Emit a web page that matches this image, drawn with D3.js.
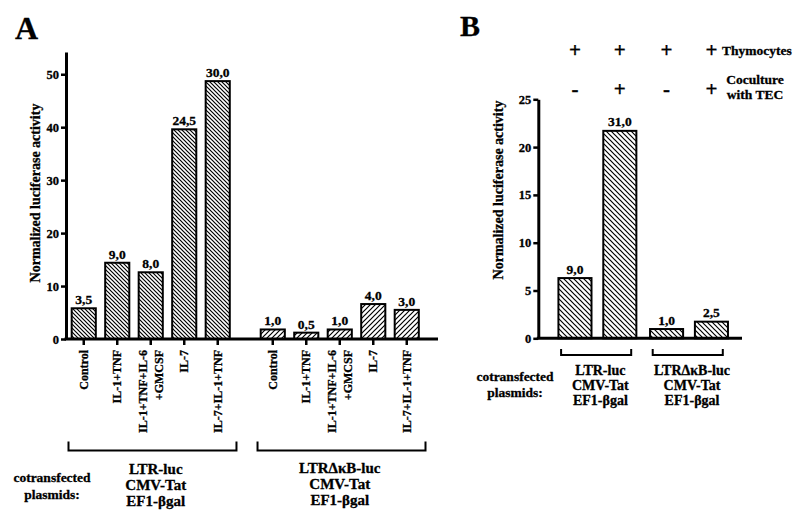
<!DOCTYPE html>
<html>
<head>
<meta charset="utf-8">
<script src="https://cdn.jsdelivr.net/npm/d3@7"></script>
<style>
  body { margin: 0; background: #fff; }
  svg text { font-family: "Liberation Serif", serif; font-weight: bold; fill: #000;
             stroke: #000; stroke-width: 0.3; }
</style>
</head>
<body>
<svg id="fig" width="800" height="519"></svg>
<script>
// ---- data ----
// panel A
const groupsA = ["LTR", "LTRdk"];
const treatmentsA = ["Control", "IL-1+TNF", "IL-1+TNF+IL-6|+GMCSF", "IL-7", "IL-7+IL-1+TNF"];
const activityLTR = [5.8, 14.4, 12.6, 39.6, 48.7];
const activityLTRdk = [1.8, 1.2, 1.8, 6.6, 5.5];
const foldLTR = ["3,5", "9,0", "8,0", "24,5", "30,0"];
const foldLTRdk = ["1,0", "0,5", "1,0", "4,0", "3,0"];
const ticksA = [0, 10, 20, 30, 40, 50];

// panel B
const groupsB = ["LTR", "LTRdk"];
const conditionsB = ["a", "b"];
const activityB = [[6.3, 21.7], [0.97, 1.74]];
const foldB = [["9,0", "31,0"], ["1,0", "2,5"]];
const thymocytes = ["+", "+", "+", "+"];
const coculture = ["-", "+", "-", "+"];
const ticksB = [0, 5, 10, 15, 20, 25];

// plasmid label lines
const plasmidLTR = ["LTR-luc", "CMV-Tat", "EF1-\u03B2gal"];
const plasmidLTRdk = ["LTR\u0394\u03BAB-luc", "CMV-Tat", "EF1-\u03B2gal"];
const plasmidsCaption = ["cotransfected", "plasmids:"];

const svg = d3.select("svg#fig");

// hatch patterns
const defs = svg.append("defs");
function hatch(id, size, back) {
  const p = defs.append("pattern")
    .attr("id", id)
    .attr("patternUnits", "userSpaceOnUse")
    .attr("width", size)
    .attr("height", size);
  p.append("rect").attr("width", size).attr("height", size).attr("fill", "#fff");
  const s = size;
  const d = back
    ? `M0,0L${s},${s}M${-s/2},${s/2}L${s/2},${s*1.5}M${s/2},${-s/2}L${s*1.5},${s/2}`
    : `M0,${s}L${s},0M${-s/2},${s/2}L${s/2},${-s/2}M${s/2},${s*1.5}L${s*1.5},${s/2}`;
  p.append("path").attr("d", d).attr("stroke", "#000").attr("stroke-width", 1.2);
}
hatch("hatchBack", 4, true);
hatch("hatchFwd", 5, false);
hatch("hatchBackB", 5, true);

function styleAxis(g, size) {
  g.attr("font-size", size);
  g.select(".domain").attr("stroke", "#000").attr("stroke-width", 3);
  g.selectAll(".tick line").attr("stroke", "#000").attr("stroke-width", 2.5);
}

// ================= PANEL A =================
const A = svg.append("g").attr("id", "panelA");

const yA = d3.scaleLinear().domain([0, 54.2]).range([339, 52]);
const xGroupA = d3.scaleBand().domain(groupsA).range([67, 423.5]).paddingInner(0.114);
const xInA = d3.scaleBand().domain(d3.range(treatmentsA.length))
  .range([0, xGroupA.bandwidth()]).paddingInner(0.28).paddingOuter(0.14);

const rowsA = [];
groupsA.forEach((g, gi) => {
  const vals = gi === 0 ? activityLTR : activityLTRdk;
  const folds = gi === 0 ? foldLTR : foldLTRdk;
  vals.forEach((v, i) => rowsA.push({ group: g, i: i, value: v, fold: folds[i], label: treatmentsA[i] }));
});
const cxA = d => xGroupA(d.group) + xInA(d.i) + xInA.bandwidth() / 2;

A.append("text").attr("x", 15).attr("y", 39).attr("font-size", 32).text("A");

// bars
A.selectAll("rect.bar").data(rowsA).enter().append("rect")
  .attr("class", "bar")
  .attr("x", d => xGroupA(d.group) + xInA(d.i))
  .attr("y", d => yA(d.value))
  .attr("width", xInA.bandwidth())
  .attr("height", d => yA(0) - yA(d.value))
  .attr("fill", d => d.group === "LTR" ? "url(#hatchBack)" : "url(#hatchFwd)")
  .attr("stroke", "#000").attr("stroke-width", 2);

// value labels
A.selectAll("text.val").data(rowsA).enter().append("text")
  .attr("class", "val")
  .attr("x", cxA)
  .attr("y", d => yA(d.value) - 4)
  .attr("text-anchor", "middle")
  .attr("font-size", 13.5)
  .text(d => d.fold);

// y axis
const yAxisA = A.append("g").attr("transform", "translate(66,0)")
  .call(d3.axisLeft(yA).tickValues(ticksA).tickSize(5).tickSizeOuter(0).tickPadding(2));
styleAxis(yAxisA, 12.5);

// x axis line and ticks
A.append("line").attr("x1", 64.5).attr("x2", 438).attr("y1", yA(0)).attr("y2", yA(0))
  .attr("stroke", "#000").attr("stroke-width", 3);
A.selectAll("line.xt").data(rowsA).enter().append("line")
  .attr("x1", cxA).attr("x2", cxA)
  .attr("y1", yA(0)).attr("y2", yA(0) + 6)
  .attr("stroke", "#000").attr("stroke-width", 2.5);

// rotated category labels
const catA = A.selectAll("g.cat").data(rowsA).enter().append("g")
  .attr("class", "cat")
  .attr("transform", d => `translate(${cxA(d)},${yA(0) + 11})`);
catA.each(function(d) {
  const lines = d.label.split("|");
  d3.select(this).selectAll("text").data(lines).enter().append("text")
    .attr("transform", (l, k) => `translate(${4 + (k - (lines.length - 1) / 2) * 16},0) rotate(-90)`)
    .attr("text-anchor", "end")
    .attr("font-size", 12)
    .text(l => l);
});

// y title
A.append("text")
  .attr("transform", "translate(40,193) rotate(-90)")
  .attr("text-anchor", "middle")
  .attr("font-size", 14)
  .text("Normalized luciferase activity");

// brackets
function bracket(g, x1, x2, yTop, yBot) {
  g.append("path")
    .attr("d", `M${x1},${yTop}V${yBot}H${x2}V${yTop}`)
    .attr("fill", "none").attr("stroke", "#000").attr("stroke-width", 2);
}
groupsA.forEach(g => bracket(A, xGroupA(g) + 1.5, xGroupA(g) + xGroupA.bandwidth() + 2, 441.5, 450.5));

// plasmid labels
function stack(g, lines, x, y0, dy, size) {
  g.selectAll(null).data(lines).enter().append("text")
    .attr("x", x).attr("y", (l, k) => y0 + k * dy)
    .attr("text-anchor", "middle").attr("font-size", size)
    .text(l => l);
}
stack(A, plasmidsCaption, 52, 482, 16.5, 13.5);
stack(A, plasmidLTR, xGroupA("LTR") + xGroupA.bandwidth() / 2 + 5, 474, 16, 15);
stack(A, plasmidLTRdk, xGroupA("LTRdk") + xGroupA.bandwidth() / 2, 473, 16, 15);

// ================= PANEL B =================
const B = svg.append("g").attr("id", "panelB");

const yB = d3.scaleLinear().domain([0, 25]).range([338.3, 99.3]);
const xGroupB = d3.scaleBand().domain(groupsB).range([552.6, 733.8]).paddingInner(0.022);
const xInB = d3.scaleBand().domain(conditionsB)
  .range([0, xGroupB.bandwidth()]).paddingInner(0.263).paddingOuter(0.13);

const rowsB = [];
groupsB.forEach((g, gi) => conditionsB.forEach((c, ci) =>
  rowsB.push({ group: g, cond: c, value: activityB[gi][ci], fold: foldB[gi][ci] })));
const cxB = d => xGroupB(d.group) + xInB(d.cond) + xInB.bandwidth() / 2;

B.append("text").attr("x", 460).attr("y", 36).attr("font-size", 30).text("B");

B.selectAll("rect.bar").data(rowsB).enter().append("rect")
  .attr("class", "bar")
  .attr("x", d => xGroupB(d.group) + xInB(d.cond))
  .attr("y", d => yB(d.value))
  .attr("width", xInB.bandwidth())
  .attr("height", d => yB(0) - yB(d.value))
  .attr("fill", "url(#hatchBackB)")
  .attr("stroke", "#000").attr("stroke-width", 2);

B.selectAll("text.val").data(rowsB).enter().append("text")
  .attr("class", "val")
  .attr("x", cxB)
  .attr("y", d => yB(d.value) - 4.5)
  .attr("text-anchor", "middle")
  .attr("font-size", 13.5)
  .text(d => d.fold);

const yAxisB = B.append("g").attr("transform", "translate(538.3,0)")
  .call(d3.axisLeft(yB).tickValues(ticksB).tickSize(5).tickSizeOuter(0).tickPadding(2));
styleAxis(yAxisB, 12.5);

B.append("line").attr("x1", 536.8).attr("x2", 742).attr("y1", yB(0)).attr("y2", yB(0))
  .attr("stroke", "#000").attr("stroke-width", 3);

B.append("text")
  .attr("transform", "translate(503,190) rotate(-90)")
  .attr("text-anchor", "middle")
  .attr("font-size", 14)
  .text("Normalized luciferase activity");

// +/- header rows
B.selectAll("text.thy").data(rowsB).enter().append("text")
  .attr("x", cxB).attr("y", 57)
  .attr("text-anchor", "middle").attr("font-size", 21)
  .text((d, i) => thymocytes[i]);
B.selectAll("text.coc").data(rowsB).enter().append("text")
  .attr("x", cxB).attr("y", 96)
  .attr("text-anchor", "middle").attr("font-size", 21)
  .text((d, i) => coculture[i]);
B.append("text").attr("x", 722).attr("y", 55).attr("font-size", 13.5).text("Thymocytes");
stack(B, ["Coculture", "with TEC"], 755, 84, 15, 13.5);

groupsB.forEach(g => bracket(B, xGroupB(g) + 8.5, xGroupB(g) + xGroupB.bandwidth() - 11, 349, 355));

stack(B, plasmidsCaption, 515, 381, 16, 13.5);
stack(B, plasmidLTR, xGroupB("LTR") + xGroupB.bandwidth() / 2 + 3, 375, 15, 14);
stack(B, plasmidLTRdk, xGroupB("LTRdk") + xGroupB.bandwidth() / 2 + 3, 375, 15, 14);
</script>
</body>
</html>
